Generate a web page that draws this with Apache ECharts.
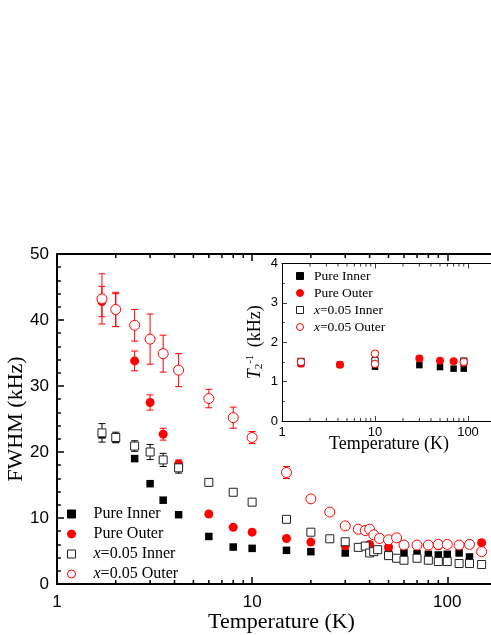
<!DOCTYPE html>
<html>
<head>
<meta charset="utf-8">
<script src="https://cdn.jsdelivr.net/npm/echarts@6/dist/echarts.min.js"></script>
<style>
  html, body { margin: 0; padding: 0; background: #fff; }
  #main { width: 491px; height: 635px; }
</style>
</head>
<body>
<div id="main"></div>
<script>
// main panel: FWHM (kHz) vs temperature (K)
const pureInnerT = [1.7, 2.0, 2.5, 3.0, 3.5, 4.2, 6.0, 8.0, 10, 15, 20, 30, 40, 50, 60, 70, 80, 90, 100, 115, 130]
const pureInnerW = [22.6, 22.0, 19.0, 15.2, 12.7, 10.5, 7.2, 5.6, 5.4, 5.1, 4.9, 4.7, 4.8, 4.9, 4.7, 4.6, 4.5, 4.4, 4.5, 4.7, 4.1]

const pureOuterT = [1.7, 2.0, 2.5, 3.0, 3.5, 4.2, 6.0, 8.0, 10, 15, 20, 30, 40, 50, 90, 100, 130, 150]
const pureOuterW = [42.8, 41.5, 33.8, 27.5, 22.7, 18.2, 10.6, 8.6, 7.85, 6.9, 6.35, 5.8, 6.0, 5.6, 5.8, 6.0, 6.1, 6.25]
const pureOuterErr = [2.3, 2.5, 1.5, 1.15, 0.9, 0.6, 0, 0, 0, 0, 0, 0, 0, 0, 0, 0, 0, 0]

const x05InnerT = [1.7, 2.0, 2.5, 3.0, 3.5, 4.2, 6.0, 8.0, 10, 15, 20, 25, 30, 35, 38, 40, 42, 44, 50, 55, 60, 70, 80, 90, 100, 115, 130, 150]
const x05InnerW = [22.9, 22.2, 20.9, 20.0, 18.8, 17.6, 15.4, 13.9, 12.4, 9.8, 7.85, 6.85, 6.4, 5.55, 5.75, 4.7, 4.9, 5.2, 4.3, 3.9, 3.6, 3.9, 3.6, 3.4, 3.4, 3.1, 3.1, 2.95]
const x05InnerErr = [1.4, 0.8, 0.8, 1.15, 1.0, 0.8, 0, 0, 0, 0, 0, 0, 0, 0, 0, 0, 0, 0, 0, 0, 0, 0, 0, 0, 0, 0, 0, 0]

const x05OuterT = [1.7, 2.0, 2.5, 3.0, 3.5, 4.2, 6.0, 8.0, 10, 15, 20, 25, 30, 35, 38, 40, 42, 45, 50, 55, 60, 70, 80, 90, 100, 115, 130, 150]
const x05OuterW = [43.2, 41.6, 39.2, 37.1, 34.9, 32.4, 28.1, 25.2, 22.2, 16.9, 12.9, 10.9, 8.8, 8.3, 8.1, 8.3, 7.45, 6.9, 6.7, 7.0, 5.9, 5.9, 5.9, 6.0, 6.0, 5.9, 6.0, 4.9]
const x05OuterErr = [3.8, 2.6, 2.4, 3.8, 2.8, 2.5, 1.4, 1.6, 0.9, 0.9, 0.4, 0, 0, 0, 0, 0, 0, 0, 0, 0, 0, 0, 0, 0, 0, 0, 0, 0]

// inset: T2^-1 (kHz) vs temperature (K)
const insPureInnerT = [1.6, 4.2, 10, 30, 50, 70, 90]
const insPureInnerV = [1.45, 1.43, 1.38, 1.42, 1.37, 1.33, 1.33]
const insPureOuterT = [1.6, 4.2, 30, 50, 70, 90]
const insPureOuterV = [1.46, 1.43, 1.59, 1.53, 1.52, 1.48]
const insX05InnerT = [1.6, 10, 90]
const insX05InnerV = [1.51, 1.53, 1.52]
const insX05OuterT = [1.6, 10, 10, 90]
const insX05OuterV = [1.50, 1.71, 1.45, 1.50]

const seriesNames = ['Pure Inner', 'Pure Outer', 'x=0.05 Inner', 'x=0.05 Outer']
const minorLogTicks = [2, 3, 4, 5, 6, 7, 8, 9, 20, 30, 40, 50, 60, 70, 80, 90]

const serif = 'Liberation Serif'
const sans = 'Liberation Sans'
const RED = '#ff0000'

function pairs (xs, ys) {
  return xs.map((x, i) => [x, ys[i]])
}

function triples (xs, ys, es) {
  return xs.map((x, i) => [x, ys[i], es[i]]).filter(d => d[2] > 0)
}

function errorBars (data, color) {
  return {
    type: 'custom',
    xAxisIndex: 0,
    yAxisIndex: 0,
    silent: true,
    data: data,
    encode: { x: 0, y: 1 },
    renderItem: (params, api) => {
      const t = api.value(0)
      const v = api.value(1)
      const e = api.value(2)
      const hi = api.coord([t, v + e])
      const lo = api.coord([t, v - e])
      const style = { stroke: color, lineWidth: 1 }
      return {
        type: 'group',
        children: [
          { type: 'line', shape: { x1: hi[0], y1: hi[1], x2: lo[0], y2: lo[1] }, style },
          { type: 'line', shape: { x1: hi[0] - 3.5, y1: hi[1], x2: hi[0] + 3.5, y2: hi[1] }, style },
          { type: 'line', shape: { x1: lo[0] - 3.5, y1: lo[1], x2: lo[0] + 3.5, y2: lo[1] }, style }
        ]
      }
    }
  }
}

// log axis minor ticks (2..9 per decade), bottom and top edge
function logMinor (xi, yi, yMin, yMax, len, width) {
  return {
    type: 'custom',
    xAxisIndex: xi,
    yAxisIndex: yi,
    silent: true,
    clip: false,
    data: minorLogTicks.map(t => [t, yMin]),
    encode: { x: 0, y: 1 },
    renderItem: (params, api) => {
      const b = api.coord([api.value(0), yMin])
      const t = api.coord([api.value(0), yMax])
      const style = { stroke: '#000', lineWidth: width }
      return {
        type: 'group',
        children: [
          { type: 'line', shape: { x1: b[0], y1: b[1], x2: b[0], y2: b[1] - len }, style },
          { type: 'line', shape: { x1: t[0], y1: t[1], x2: t[0], y2: t[1] + len }, style }
        ]
      }
    }
  }
}

function scatter (name, xi, yi, data, symbol, size, fill, stroke) {
  return {
    name: name,
    type: 'scatter',
    xAxisIndex: xi,
    yAxisIndex: yi,
    data: data,
    symbol: symbol,
    symbolSize: size,
    silent: true,
    itemStyle: { color: fill, borderColor: stroke || fill, borderWidth: stroke ? 1 : 0, opacity: 1 }
  }
}

const logLabel = v => {
  const l = Math.log10(v)
  return (Math.abs(l - Math.round(l)) < 1e-6 && v <= 100) ? String(Math.round(v)) : ''
}

const legendFmt = name => '{s|}' + (name.charAt(0) === 'x' ? '{i|x}' + name.slice(1) : name)

function legendData () {
  return [
    { name: seriesNames[0], icon: 'rect' },
    { name: seriesNames[1], icon: 'circle' },
    { name: seriesNames[2], icon: 'rect' },
    { name: seriesNames[3], icon: 'circle' }
  ]
}

function xLog (grid, pos, width, tickLen, label) {
  return {
    gridIndex: grid,
    type: 'log',
    logBase: 10,
    min: 1,
    max: 200,
    position: pos,
    axisLine: { show: true, onZero: false, lineStyle: { color: '#000', width: width } },
    axisTick: { show: true, inside: true, length: tickLen, lineStyle: { color: '#000', width: width * 0.75 } },
    axisLabel: label ? Object.assign({ color: '#000', fontFamily: sans, formatter: logLabel, showMaxLabel: false }, label) : { show: false },
    splitLine: { show: false },
    minorTick: { show: false }
  }
}

function yLin (grid, pos, max, interval, minorSplit, width, tickLen, label) {
  return {
    gridIndex: grid,
    type: 'value',
    min: 0,
    max: max,
    interval: interval,
    position: pos,
    axisLine: { show: true, onZero: false, lineStyle: { color: '#000', width: width } },
    axisTick: { show: true, inside: true, length: tickLen, lineStyle: { color: '#000', width: width * 0.75 } },
    minorTick: { show: true, splitNumber: minorSplit, length: tickLen * 0.55, lineStyle: { color: '#000', width: width * 0.75 } },
    axisLabel: label ? Object.assign({ color: '#000', fontFamily: sans }, label) : { show: false },
    splitLine: { show: false }
  }
}

function setName (axis, name, gap, size, extra) {
  axis.name = name
  axis.nameLocation = 'middle'
  axis.nameGap = gap
  axis.nameMoveOverlap = false
  axis.nameTextStyle = Object.assign({ fontFamily: serif, fontSize: size, color: '#000' }, extra || {})
  return axis
}

const xMain = setName(xLog(0, 'bottom', 2, 7, { fontSize: 17, margin: 10 }), 'Temperature (K)', 27.5, 22)
const xInset = setName(xLog(1, 'bottom', 1, 5, { fontSize: 13, margin: 5 }), 'Temperature (K)', 14, 18)
const yMain = setName(yLin(0, 'left', 50, 10, 5, 2, 7, { fontSize: 17, margin: 8 }), 'FWHM (kHz)', 30, 22)
const yInset = setName(yLin(1, 'left', 4, 1, 2, 1, 5, { fontSize: 13, margin: 4 }), '{it|T}{sub|2}{sup|-1} (kHz)', 15, 18, {
  lineHeight: 24,
  rich: {
    it: { fontFamily: serif, fontSize: 18, fontStyle: 'italic', color: '#000', lineHeight: 24 },
    sub: { fontFamily: serif, fontSize: 11, color: '#000', lineHeight: 11, verticalAlign: 'bottom', padding: [0, 0, 2, 0] },
    sup: { fontFamily: serif, fontSize: 11, color: '#000', lineHeight: 11, verticalAlign: 'top', padding: [2, 3, 0, 0] }
  }
})

const option = {
  backgroundColor: '#fff',
  animation: false,
  grid: [
    { left: 57, top: 254, right: -15, bottom: 51, outerBoundsMode: 'none', containLabel: false },
    { left: 282, top: 263.5, right: -5, bottom: 214, outerBoundsMode: 'none', containLabel: false, show: true, backgroundColor: '#fff', borderWidth: 0 }
  ],
  xAxis: [
    xMain,
    xLog(0, 'top', 2, 7, null),
    xInset,
    xLog(1, 'top', 1, 5, null)
  ],
  yAxis: [
    yMain,
    yLin(0, 'right', 50, 10, 5, 2, 7, null),
    yInset,
    yLin(1, 'right', 4, 1, 2, 1, 5, null)
  ],
  legend: [
    {
      data: legendData(),
      orient: 'vertical',
      left: 67,
      top: 506,
      padding: 0,
      itemWidth: 8,
      itemHeight: 8,
      itemGap: 4,
      selectedMode: false,
      itemStyle: { borderWidth: 1 },
      formatter: legendFmt,
      textStyle: {
        fontFamily: serif, fontSize: 16, color: '#000',
        rich: {
          s: { width: 13 },
          i: { fontFamily: serif, fontSize: 16, fontStyle: 'italic', color: '#000' }
        }
      }
    },
    {
      data: legendData(),
      orient: 'vertical',
      left: 296,
      top: 269,
      padding: 0,
      itemWidth: 7,
      itemHeight: 7,
      itemGap: 3,
      selectedMode: false,
      itemStyle: { borderWidth: 1 },
      formatter: legendFmt,
      textStyle: {
        fontFamily: serif, fontSize: 13.5, color: '#000',
        rich: {
          s: { width: 5.5 },
          i: { fontFamily: serif, fontSize: 13.5, fontStyle: 'italic', color: '#000' }
        }
      }
    }
  ],
  series: [
    logMinor(0, 0, 0, 50, 4, 1.5),
    logMinor(2, 2, 0, 4, 3, 0.8),

    errorBars(triples(pureOuterT, pureOuterW, pureOuterErr), RED),
    errorBars(triples(x05InnerT, x05InnerW, x05InnerErr), '#000'),
    errorBars(triples(x05OuterT, x05OuterW, x05OuterErr), RED),

    scatter(seriesNames[0], 0, 0, pairs(pureInnerT, pureInnerW), 'rect', 7.5, '#000', null),
    scatter(seriesNames[1], 0, 0, pairs(pureOuterT, pureOuterW), 'circle', 9, RED, null),
    scatter(seriesNames[2], 0, 0, pairs(x05InnerT, x05InnerW), 'rect', 8, '#fff', '#222'),
    scatter(seriesNames[3], 0, 0, pairs(x05OuterT, x05OuterW), 'circle', 10, '#fff', RED),

    scatter(seriesNames[0], 2, 2, pairs(insPureInnerT, insPureInnerV), 'rect', 6.5, '#000', null),
    scatter(seriesNames[1], 2, 2, pairs(insPureOuterT, insPureOuterV), 'circle', 8, RED, null),
    scatter(seriesNames[2], 2, 2, pairs(insX05InnerT, insX05InnerV), 'rect', 6.5, '#fff', '#222'),
    scatter(seriesNames[3], 2, 2, pairs(insX05OuterT, insX05OuterV), 'circle', 7.5, '#fff', RED)
  ]
}

const chart = echarts.init(document.getElementById('main'), null, { renderer: 'canvas' })
chart.setOption(option)
</script>
</body>
</html>
